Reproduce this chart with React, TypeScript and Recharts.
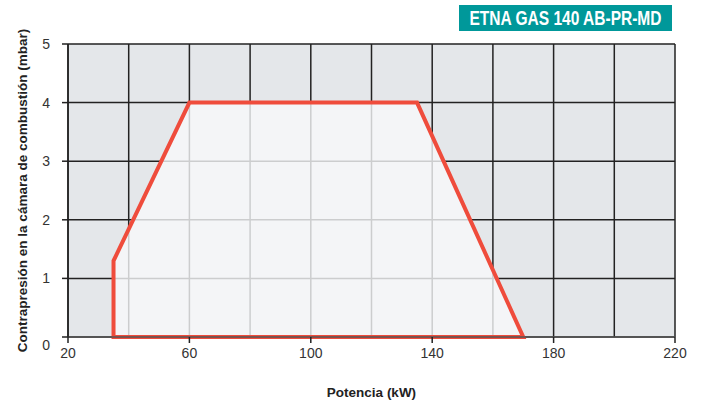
import { ComposedChart, Area, XAxis, YAxis, CartesianGrid } from 'recharts';

// Working field outline (kW, mbar), closed back to the start
const potencia = [35, 35, 60, 135, 170, 35];
const presion = [0, 1.3, 4, 4, 0, 0];

const xTicks = [20, 40, 60, 80, 100, 120, 140, 160, 180, 200, 220];
const xLabels = [20, 60, 100, 140, 180, 220];
const yTicks = [0, 1, 2, 3, 4, 5];

const title = 'ETNA GAS 140 AB-PR-MD';

const data = potencia.map((x, i) => ({ x, y: presion[i] }));

const FONT = '"Liberation Sans", Arial, sans-serif';

function XTick(props: any) {
  const { x, y, payload } = props;
  if (!xLabels.includes(payload.value)) return null;
  return (
    <g>
      <line x1={x} y1={y - 8} x2={x} y2={y - 2} stroke="#222" strokeWidth={1.5} />
      <text x={x} y={y + 13} textAnchor="middle" fill="#333" fontSize={14} fontFamily={FONT}>
        {payload.value}
      </text>
    </g>
  );
}

function YTick(props: any) {
  const { x, y, payload } = props;
  // the zero label sits a little under the axis in the original
  const dy = payload.value === 0 ? 8 : 0;
  return (
    <g>
      <line x1={x + 2} y1={y} x2={x + 8} y2={y} stroke="#222" strokeWidth={1.5} />
      <text x={x - 10} y={y + 5 + dy} textAnchor="end" fill="#333" fontSize={14} fontFamily={FONT}>
        {payload.value}
      </text>
    </g>
  );
}

export default function App() {
  return (
    <div style={{ position: 'absolute', left: 0, top: 0, width: 704, height: 405, background: '#fff' }}>
      <svg width={264} height={30} style={{ position: 'absolute', left: 434, top: 3 }}>
        <rect x={25} y={2} width={213} height={26} fill="#00989a" />
        <g transform="translate(131.5 21.5) scale(1 1.15)">
          <text
            x={0}
            y={0}
            textAnchor="middle"
            fill="#fff"
            fontFamily={FONT}
            fontWeight="bold"
            fontSize={17}
            textLength={192}
            lengthAdjust="spacingAndGlyphs"
          >
            {title}
          </text>
        </g>
      </svg>
      <ComposedChart
        width={704}
        height={405}
        data={data}
        margin={{ top: 44, right: 29, bottom: 0, left: 28 }}
      >
        <CartesianGrid stroke="#222" strokeWidth={1.5} fill="#e4e7ea" />
        <XAxis
          dataKey="x"
          type="number"
          domain={[20, 220]}
          ticks={xTicks}
          interval={0}
          tick={<XTick />}
          tickLine={false}
          axisLine={{ stroke: '#555', strokeWidth: 1.5 }}
          height={68}
          label={{
            value: 'Potencia (kW)',
            position: 'insideBottom',
            offset: 8,
            style: { fontSize: 13.5, fontWeight: 'bold', fill: '#222', fontFamily: FONT },
          }}
        />
        <YAxis
          type="number"
          domain={[0, 5]}
          ticks={yTicks}
          interval={0}
          tick={<YTick />}
          tickLine={false}
          axisLine={{ stroke: '#222', strokeWidth: 1.5 }}
          width={40}
          label={{
            value: 'Contrapresión en la cámara de combustión (mbar)',
            angle: -90,
            position: 'insideLeft',
            offset: -6,
            style: { fontSize: 13.5, fontWeight: 'bold', fill: '#222', fontFamily: FONT, textAnchor: 'middle' },
          }}
        />
        <Area
          dataKey="y"
          type="linear"
          baseValue={0}
          stroke="#ef4c3c"
          strokeWidth={4}
          strokeLinecap="square"
          strokeLinejoin="miter"
          fill="#f8f9fa"
          fillOpacity={0.8}
          dot={false}
          activeDot={false}
          isAnimationActive={false}
        />
      </ComposedChart>
    </div>
  );
}
